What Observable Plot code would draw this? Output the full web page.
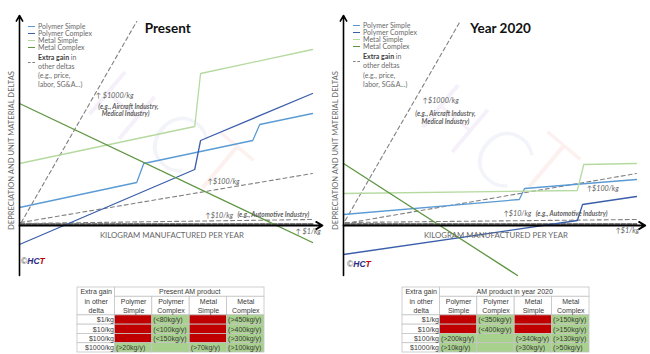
<!DOCTYPE html>
<html><head><meta charset="utf-8">
<script src="https://cdn.jsdelivr.net/npm/d3@7"></script>
<script src="https://cdn.jsdelivr.net/npm/@observablehq/plot@0.6"></script>
<style>
body{margin:0;background:#fff;}
#root{position:relative;width:650px;height:354px;overflow:hidden;background:#fff;font-family:Lato,"Open Sans",sans-serif;}
#root svg{overflow:visible;}
</style></head>
<body><div id="root"></div>
<script>
// ---------- DATA ----------
const seriesNames = ["Polymer Simple", "Polymer Complex", "Metal Simple", "Metal Complex"];
const seriesColors = ["#5B9BD5", "#3A5FAA", "#B5DAA0", "#5E9640"];

// Present panel: [kg manufactured per year (relative), depreciation & unit material delta (relative)]
const presentPolymerSimple = [[0, 18], [200, 43], [212, 62], [398, 85], [410, 101], [500, 112]];
const presentPolymerComplex = [[0, -19], [299, 56], [309, 85], [500, 132]];
const presentMetalSimple = [[0, 62], [299, 99], [309, 152], [500, 176]];
const presentMetalComplex = [[0, 122], [500, -17]];

// Year 2020 panel
const y2020PolymerSimple = [[0, 11], [300, 26], [309, 37], [500, 46]];
const y2020PolymerComplex = [[0, -29], [399, 5], [408, 21], [500, 29]];
const y2020MetalSimple = [[0, 32], [399, 35], [410, 61], [500, 62]];
const y2020MetalComplex = [[0, 62], [297, -50]];

// Extra gain (dashed) lines: $1000/kg, $100/kg, $10/kg, $1/kg
const gainLabels = ["$1000/kg", "$100/kg", "$10/kg", "$1/kg"];
const presentGain = [[[3, 3], [200, 204]], [[2, 3], [500, 52]], [[2, 2], [500, 6]], [[2, 1.5], [500, 1.5]]];
const y2020Gain = [[[3, 5], [198, 203]], [[3, 2], [500, 52]], [[3, 3], [500, 6]], [[3, 1.5], [500, 1.5]]];

// annotations [x, y, text, anchor, bold]
const presentNotes = [
  [130, 130, "\u2191 $1000/kg", "start", false],
  [186, 119, "(e.g., Aircraft Industry,", "middle", true],
  [181, 112, "Medical Industry)", "middle", true],
  [321, 44, "\u2191$100/kg", "start", false],
  [317, 10, "\u2191$10/kg", "start", false],
  [372, 11, "(e.g., Automotive Industry)", "start", true],
  [471, -6, "\u2191 $1/kg", "start", false]
];
const y2020Notes = [
  [135, 125, "\u2191$1000/kg", "start", false],
  [174, 112, "(e.g., Aircraft Industry,", "middle", true],
  [174, 104, "Medical Industry)", "middle", true],
  [415, 37, "\u2191$100/kg", "start", false],
  [273, 12, "\u2191$10/kg", "start", false],
  [328, 12, "(e.g., Automotive Industry)", "start", true],
  [464, -5, "\u2191$1/kg", "start", false]
];

const xLabel = "KILOGRAM MANUFACTURED PER YEAR";
const yLabel = "DEPRECIATION AND UNIT MATERIAL DELTAS";
const watermarkLetters = ["H", "C", "T"];
const watermarkColors = ["#9a6fc0", "#7d8fc8", "#ee7a62"];
const presentWatermark = [[172, 118], [266, 82], [340, 57]];
const y2020Watermark = [[188, 105], [268, 67], [345, 58]];

// Tables
const tableColumns = ["Polymer Simple", "Polymer Complex", "Metal Simple", "Metal Complex"];
const tableRows = ["$1/kg", "$10/kg", "$100/kg", "$1000/kg"];
const tableRowHeader = ["Extra gain", "in other", "delta"];
const presentTableTitle = "Present AM product";
const y2020TableTitle = "AM product in year 2020";
// null = not worthwhile (red), string = worthwhile (green)
const presentCells = [
  [null, "(<80kg/y)", null, "(>450kg/y)"],
  [null, "(<100kg/y)", null, "(>400kg/y)"],
  [null, "(<150kg/y)", null, "(>300kg/y)"],
  ["(>20kg/y)", "", "(>70kg/y)", "(>100kg/y)"]
];
const y2020Cells = [
  [null, "(<350kg/y)", null, "(>150kg/y)"],
  [null, "(<400kg/y)", null, "(>150kg/y)"],
  ["(>200kg/y)", "", "(>340kg/y)", "(>130kg/y)"],
  ["(>10kg/y)", "", "(>30kg/y)", "(>50kg/y)"]
];

// ---------- DRAW ----------
const root = document.getElementById("root");
const GRAY = "#5f5f5f";

function panel({width, marginLeft, marginRight, series, gains, notes, title, titleX, watermark, arrowEnd}) {
  const lineData = series.flatMap((pts, i) => pts.map(([x, y]) => ({x, y, s: seriesNames[i]})));
  const gainData = gains.flatMap((pts, i) => pts.map(([x, y]) => ({x, y, g: gainLabels[i]})));
  const wm = watermark.map(([x, y], i) => ({x, y, t: watermarkLetters[i], c: watermarkColors[i]}));
  const noteData = notes.map(([x, y, t, a, b]) => ({x, y, t, a, b}));
  return Plot.plot({
    width, height: 280, marginLeft, marginRight, marginTop: 15, marginBottom: 5,
    x: {domain: [0, 500], axis: null},
    y: {domain: [-50, 210], axis: null},
    color: {domain: seriesNames, range: seriesColors},
    style: {fontFamily: "Lato, 'Open Sans', sans-serif", overflow: "visible", background: "transparent"},
    marks: [
      ...wm.map(d => Plot.text([d], {x: "x", y: "y", text: "t", fill: d.c, fillOpacity: 0.1, fontSize: 78, rotate: 40, fontWeight: 300})),
      Plot.line(gainData.filter(d => d.g !== "$1/kg"), {x: "x", y: "y", z: "g", stroke: "#808080", strokeWidth: 1.1, strokeDasharray: "4,3"}),
      Plot.line(gainData.filter(d => d.g === "$1/kg"), {x: "x", y: "y", z: "g", stroke: "#7a7a7a", strokeWidth: 2, strokeDasharray: "4,2"}),
      Plot.line(lineData, {x: "x", y: "y", z: "s", stroke: "s", strokeWidth: 1.3}),
      Plot.arrow([{x1: 0, y1: -50, x2: 0, y2: 210}], {x1: "x1", y1: "y1", x2: "x2", y2: "y2", stroke: "#000", strokeWidth: 1.6, headLength: 6}),
      Plot.arrow([{x1: 0, y1: 0, x2: arrowEnd, y2: 0}], {x1: "x1", y1: "y1", x2: "x2", y2: "y2", stroke: "#000", strokeWidth: 1.8, headLength: 6}),
      Plot.text(noteData.filter(d => !d.b && d.a === "start"), {x: "x", y: "y", text: "t", textAnchor: "start", fontStyle: "italic", fontSize: 7.2, fill: GRAY}),
      Plot.text(noteData.filter(d => d.b && d.a === "start"), {x: "x", y: "y", text: "t", textAnchor: "start", fontStyle: "italic", fontWeight: "bold", fontSize: 6.5, fill: GRAY}),
      Plot.text(noteData.filter(d => d.b && d.a === "middle"), {x: "x", y: "y", text: "t", textAnchor: "middle", fontStyle: "italic", fontWeight: "bold", fontSize: 6.5, fill: GRAY}),
      Plot.text([xLabel], {x: 260, y: -10, text: d => d, fontSize: 7.8, fill: "#666"}),
      Plot.text([yLabel], {x: -13, y: 75, text: d => d, rotate: -90, fontSize: 7.6, fill: "#666"}),
      Plot.text([title], {x: titleX, y: 197, text: d => d, fontSize: 13.5, fontWeight: "bold", fill: "#111"})
    ]
  });
}

function place(el, left, top) {
  el.style.position = "absolute";
  el.style.left = left + "px";
  el.style.top = top + "px";
  root.appendChild(el);
}

const leftPanel = panel({width: 330, marginLeft: 19, marginRight: 18,
  series: [presentPolymerSimple, presentPolymerComplex, presentMetalSimple, presentMetalComplex],
  gains: presentGain, notes: presentNotes, title: "Present", titleX: 253, watermark: presentWatermark, arrowEnd: 517});
place(leftPanel, 0, 0);
const rightPanel = panel({width: 320, marginLeft: 13, marginRight: 14,
  series: [y2020PolymerSimple, y2020PolymerComplex, y2020MetalSimple, y2020MetalComplex],
  gains: y2020Gain, notes: y2020Notes, title: "Year 2020", titleX: 268, watermark: y2020Watermark, arrowEnd: 515});
place(rightPanel, 330, 0);

function legend(left, top) {
  const div = document.createElement("div");
  div.style.cssText = "font-size:7px;color:#6a6a6a;line-height:7px;font-family:Lato,'Open Sans',sans-serif;white-space:nowrap;";
  let html = "";
  seriesNames.forEach((n, i) => {
    html += `<div style="display:flex;align-items:center;height:7px"><span style="display:inline-block;width:7px;height:0;border-top:1.4px solid ${seriesColors[i]};margin-right:3px"></span>${n}</div>`;
  });
  html += `<div style="position:relative;margin-top:2px;padding-left:10px;line-height:9.3px"><span style="position:absolute;left:0;top:9px;width:7px;border-top:1px dashed #808080"></span><b style="color:#404040">Extra gain</b> in<br>other deltas<br>(e.g., price,<br>labor, SG&amp;A...)</div>`;
  div.innerHTML = html;
  place(div, left, top);
}
legend(28, 22.5);
legend(353, 22);

function logo(left, top) {
  const d = document.createElement("div");
  d.style.cssText = "font-size:8.5px;font-family:'Liberation Sans',sans-serif;";
  d.innerHTML = `<span style="color:#555">\u00a9</span><b><i style="color:#2b2a86">HC</i><i style="color:#c00000">T</i></b>`;
  place(d, left, top);
}
logo(21, 256);
logo(347, 259);

function table(title, cells) {
  const rects = [];
  rects.push({x1: 0, x2: 1, y1: 0, y2: 3, fill: "#fff"});
  rects.push({x1: 1, x2: 5, y1: 0, y2: 1, fill: "#fff"});
  tableColumns.forEach((c, i) => rects.push({x1: i + 1, x2: i + 2, y1: 1, y2: 3, fill: "#fff"}));
  tableRows.forEach((r, j) => {
    rects.push({x1: 0, x2: 1, y1: j + 3, y2: j + 4, fill: "#fff"});
    cells[j].forEach((v, i) => rects.push({x1: i + 1, x2: i + 2, y1: j + 3, y2: j + 4, fill: v === null ? "#C00000" : "#A9D18E"}));
  });
  const centerTexts = [];
  tableRowHeader.forEach((t, k) => centerTexts.push({x: 0.5, y: k + 0.5, t}));
  centerTexts.push({x: 3, y: 0.5, t: title});
  tableColumns.forEach((c, i) => {
    const [a, b] = c.split(" ");
    centerTexts.push({x: i + 1.5, y: 1.5, t: a});
    centerTexts.push({x: i + 1.5, y: 2.5, t: b});
  });
  const rowTexts = tableRows.map((r, j) => ({x: 1, y: j + 3.5, t: r}));
  const cellTexts = [];
  cells.forEach((row, j) => row.forEach((v, i) => { if (v) cellTexts.push({x: i + 1, y: j + 3.5, t: v}); }));
  return Plot.plot({
    width: 189, height: 67, marginLeft: 1, marginRight: 1, marginTop: 1, marginBottom: 1,
    x: {domain: [0, 5], axis: null},
    y: {domain: [0, 7], axis: null, reverse: true},
    style: {fontFamily: "'Liberation Sans', Arial, sans-serif", background: "transparent", overflow: "visible"},
    marks: [
      Plot.rect(rects, {x1: "x1", x2: "x2", y1: "y1", y2: "y2", fill: "fill", stroke: "#c4c4c4", strokeWidth: 0.8}),
      Plot.text(centerTexts, {x: "x", y: "y", text: "t", fontSize: 7, fill: "#3a3a3a"}),
      Plot.text(rowTexts, {x: "x", y: "y", text: "t", fontSize: 7, fill: "#3a3a3a", textAnchor: "end", dx: -1}),
      Plot.text(cellTexts, {x: "x", y: "y", text: "t", fontSize: 7, fill: "#3a3a3a", textAnchor: "start", dx: 1})
    ]
  });
}
place(table(presentTableTitle, presentCells), 76, 286);
place(table(y2020TableTitle, y2020Cells), 401, 286);
</script>
</body></html>
